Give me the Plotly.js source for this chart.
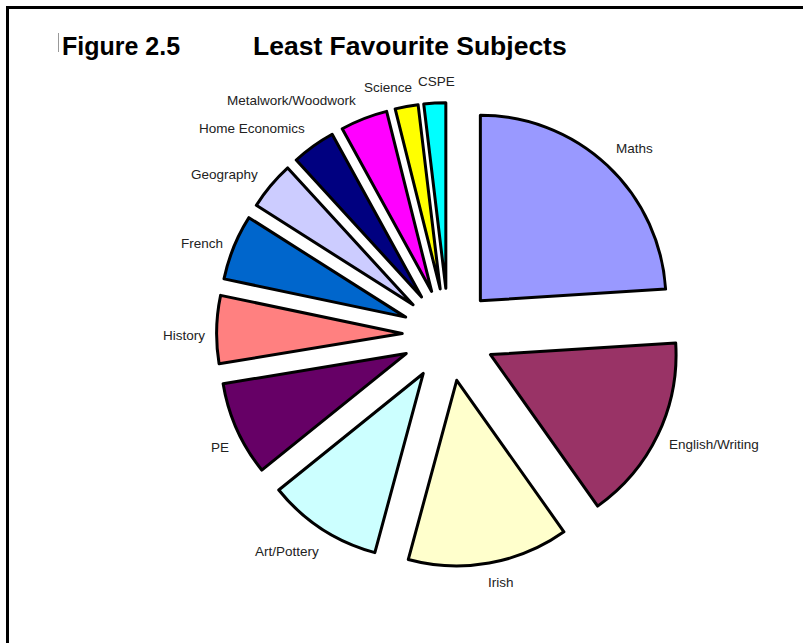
<!DOCTYPE html>
<html>
<head>
<meta charset="utf-8">
<script src="https://cdn.plot.ly/plotly-3.0.1.min.js"></script>
<style>
  html, body { margin: 0; padding: 0; background: #ffffff; overflow: hidden; }
  #chart { width: 803px; height: 643px; }
</style>
</head>
<body>
<div id="chart"></div>
<script>
// ---- Data (% of responses) ----
const subjects = ["Maths", "English/Writing", "Irish", "Art/Pottery", "PE", "History",
                  "French", "Geography", "Home Economics", "Metalwork/Woodwork", "Science", "CSPE"];
const shares = [24.0, 16.2, 14.0, 10.0, 8.2, 5.9, 5.7, 4.2, 3.8, 4.1, 2.0, 1.9];
const sliceColors = ["#9999FF", "#993366", "#FFFFCC", "#CCFFFF", "#660066", "#FF8080",
                     "#0066CC", "#CCCCFF", "#000080", "#FF00FF", "#FFFF00", "#00FFFF"];
const figureLabel = "Figure 2.5";
const chartTitle = "Least Favourite Subjects";

// ---- Style / layout settings ----
const W = 803, H = 643;
const PULL = 0.25;
const LABEL_GAP = 11;                 // px between slice rim and label
// label nudges (px, screen: +x right, +y down) mimicking the original's label placement
const labelNudgeX = [0, 0, 10, 4, 3, 0, 0, -3, -1, -3, -17, 2];
const labelNudgeY = [0, -3, 0, 5, 5, 6, 9, 4, 0, 1, 0, -2];
const labelFont = { family: "Liberation Sans, Arial, sans-serif", size: 13.5, color: "#222222" };

const px = v => v / W;
const py = v => 1 - v / H;

// pie domain (pixels)
const dom = { x0: 216.6, x1: 680.6, y0: 102.6, y1: 566.6 };
const cx = (dom.x0 + dom.x1) / 2, cy = (dom.y0 + dom.y1) / 2;
const boxR = Math.min(dom.x1 - dom.x0, dom.y1 - dom.y0) / 2;      // r * (1 + pull)

const trace = {
  type: "pie",
  labels: subjects,
  values: shares,
  sort: false,
  direction: "clockwise",
  rotation: 0,
  pull: subjects.map(() => PULL),
  marker: { colors: sliceColors, line: { color: "#000000", width: 3 } },
  textinfo: "none",
  hoverinfo: "label+percent",
  domain: { x: [px(dom.x0), px(dom.x1)], y: [py(dom.y1), py(dom.y0)] },
  showlegend: false
};

// labels placed outside each slice along its mid-angle (derived from the values)
const total = shares.reduce((a, b) => a + b, 0);
let cum = 0;
const labelAnns = subjects.map((name, i) => {
  const midFrac = (cum + shares[i] / 2) / total;
  cum += shares[i];
  const theta = Math.PI / 2 - midFrac * 2 * Math.PI;   // clockwise from 12 o'clock
  const c = Math.cos(theta), s = Math.sin(theta);
  const R = boxR + LABEL_GAP;
  const xPix = cx + R * c, yPix = cy - R * s;
  return {
    text: name, xref: "paper", yref: "paper",
    x: px(xPix), y: py(yPix),
    xanchor: c > 0.3 ? "left" : (c < -0.3 ? "right" : "center"),
    yanchor: s > 0.3 ? "bottom" : (s < -0.3 ? "top" : "middle"),
    xshift: labelNudgeX[i], yshift: -labelNudgeY[i],
    showarrow: false, borderpad: 0,
    font: labelFont
  };
});

const layout = {
  width: W, height: H,
  margin: { l: 0, r: 0, t: 0, b: 0 },
  paper_bgcolor: "#ffffff",
  showlegend: false,
  font: { family: "Liberation Sans, Arial, sans-serif", color: "#000000" },
  annotations: [
    { text: "<b>" + figureLabel + "</b>", xref: "paper", yref: "paper",
      x: px(60), y: py(46), xanchor: "left", yanchor: "middle", showarrow: false,
      font: { size: 25, family: "Liberation Sans, Arial, sans-serif", color: "#000000" } },
    { text: "<b>" + chartTitle + "</b>", xref: "paper", yref: "paper",
      x: px(251), y: py(46), xanchor: "left", yanchor: "middle", showarrow: false,
      font: { size: 26.5, family: "Liberation Sans, Arial, sans-serif", color: "#000000" } }
  ].concat(labelAnns),
  shapes: [
    { type: "line", xref: "paper", yref: "paper", x0: px(7.5), x1: px(7.5), y0: py(6), y1: 0,
      line: { color: "#000000", width: 3 }, layer: "above" },
    { type: "line", xref: "paper", yref: "paper", x0: px(6), x1: 1, y0: py(7.5), y1: py(7.5),
      line: { color: "#000000", width: 3 }, layer: "above" },
    { type: "line", xref: "paper", yref: "paper", x0: px(58.5), x1: px(58.5), y0: py(33), y1: py(52),
      line: { color: "#999999", width: 1 }, layer: "above" }
  ]
};

Plotly.newPlot("chart", [trace], layout, { displayModeBar: false, staticPlot: true });
</script>
</body>
</html>
